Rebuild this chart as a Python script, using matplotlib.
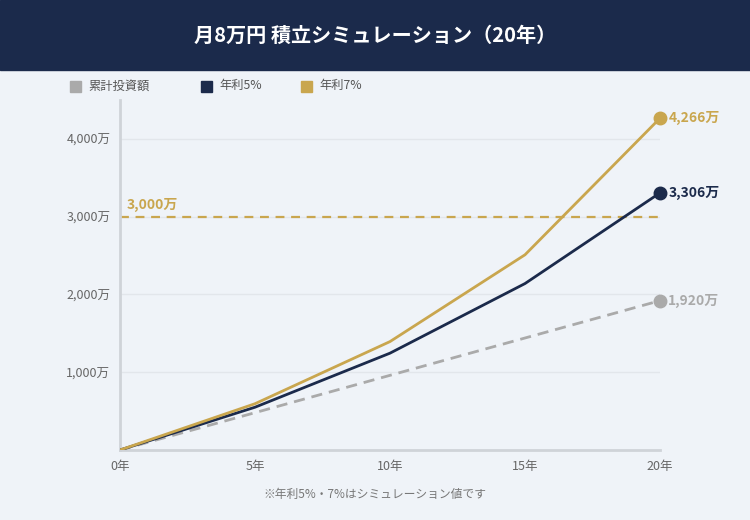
import matplotlib
matplotlib.use('Agg')
import matplotlib.pyplot as plt
from matplotlib.patches import Rectangle

plt.rcParams['font.family'] = ['Noto Sans CJK JP', 'DejaVu Sans']

years = [0, 5, 10, 15, 20]
principal = [0, 480, 960, 1440, 1920]
rate5 = [0, 550, 1245, 2140, 3306]
rate7 = [0, 595, 1394, 2510, 4266]
x_labels = ['0年', '5年', '10年', '15年', '20年']
y_ticks = [1000, 2000, 3000, 4000]
y_labels = ['1,000万', '2,000万', '3,000万', '4,000万']
goal = 3000

navy = '#1b2a4b'
gold = '#c9a64e'
grey = '#aaaaaa'
bg = '#eff3f8'

fig = plt.figure(figsize=(7.5, 5.2), dpi=100)
fig.patch.set_facecolor(bg)

# title banner
fig.add_artist(Rectangle((0, 1 - 70 / 520), 1, 70 / 520, transform=fig.transFigure,
                         color='#1b2a4b', zorder=0))
fig.text(0.5, 1 - 35 / 520, '月8万円 積立シミュレーション（20年）', color='white',
         fontsize=14.5, fontweight='bold', ha='center', va='center')

# legend
legend_items = [('累計投資額', grey, 70), ('年利5%', navy, 201), ('年利7%', gold, 301)]
for name, col, px in legend_items:
    fig.add_artist(Rectangle((px / 750, 1 - 92 / 520), 11 / 750, 11 / 520,
                             transform=fig.transFigure, color=col))
    fig.text((px + 18) / 750, 1 - 86 / 520, name, fontsize=8.8, color='#555555',
             va='center', ha='left')

ax = fig.add_axes([120 / 750, 1 - 450 / 520, 540 / 750, 350 / 520])
ax.set_facecolor(bg)
ax.set_xlim(0, 20)
ax.set_ylim(0, 4500)

ax.set_yticks(y_ticks)
ax.set_yticklabels(y_labels)
ax.set_xticks(years)
ax.set_xticklabels(x_labels)
ax.tick_params(length=0, labelsize=9, labelcolor='#666666', pad=7)
ax.grid(axis='y', color='#e2e6eb', lw=1)
ax.set_axisbelow(True)
for s in ['top', 'right']:
    ax.spines[s].set_visible(False)
for s in ['left', 'bottom']:
    ax.spines[s].set_color('#cfd3d8')
    ax.spines[s].set_linewidth(2)

ax.axhline(goal, color=gold, lw=1.6, ls=(0, (4, 3)), zorder=2)
ax.text(0.25, goal + 60, '3,000万', color=gold, fontsize=10, fontweight='bold',
        ha='left', va='bottom')

ax.plot(years, principal, color=grey, lw=2, ls=(0, (4, 2.5)), zorder=3)
ax.plot(years, rate5, color=navy, lw=2, zorder=4)
ax.plot(years, rate7, color=gold, lw=2, zorder=5)

for series, col in [(principal, grey), (rate5, navy), (rate7, gold)]:
    ax.plot(years[-1], series[-1], 'o', color=col, ms=9, clip_on=False, zorder=6)
    ax.annotate(f'{series[-1]:,}万', (years[-1], series[-1]), xytext=(6, 0),
                textcoords='offset points', color=col, fontsize=10,
                fontweight='bold', va='center', ha='left', annotation_clip=False)

fig.text(375 / 750, 1 - 494 / 520, '※年利5%・7%はシミュレーション値です',
         fontsize=8.5, color='#777777', ha='center', va='center')

fig.savefig('out.png', dpi=100, facecolor=bg)
